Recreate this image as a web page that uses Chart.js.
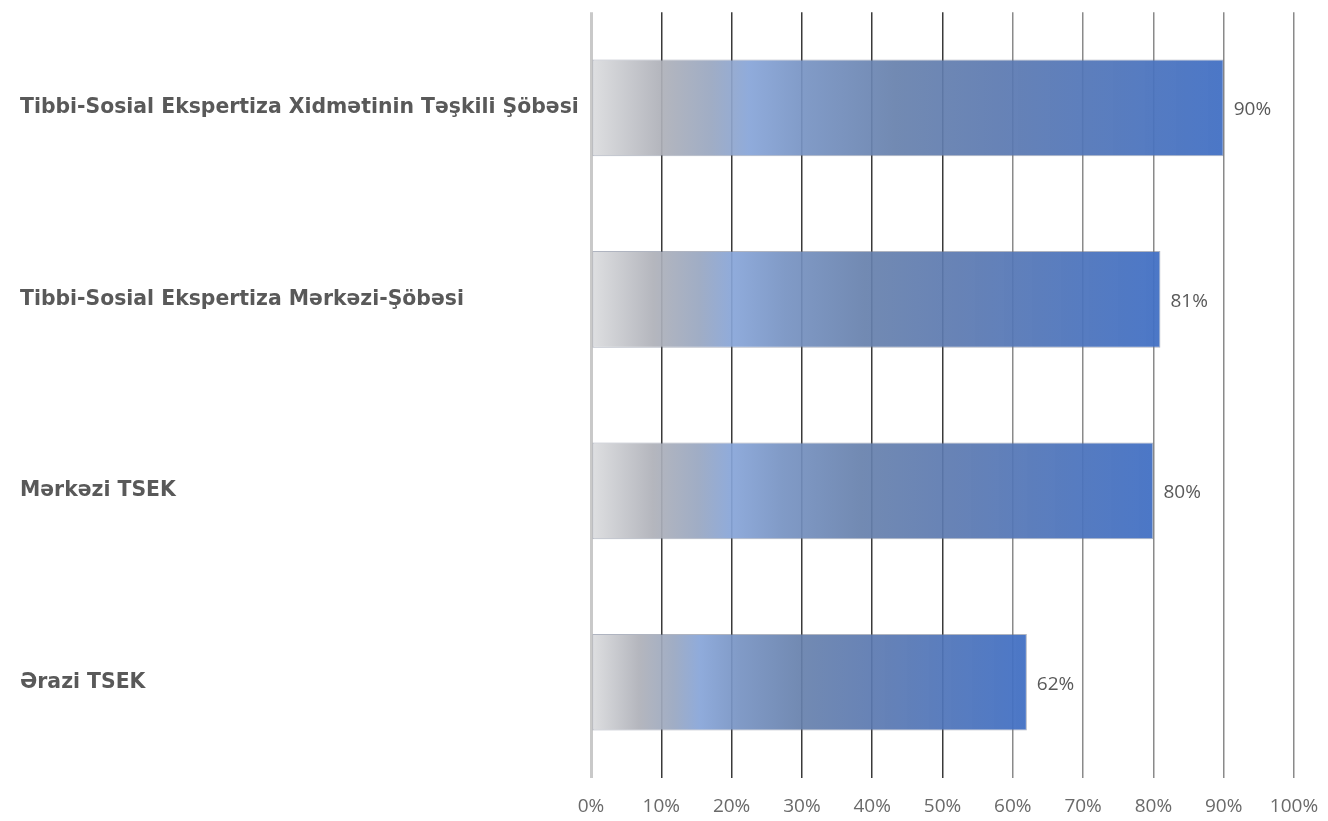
<!DOCTYPE html>
<html>
<head>
<meta charset="utf-8">
<script src="https://cdn.jsdelivr.net/npm/chart.js@4.4.1/dist/chart.umd.min.js"></script>
<style>
  html, body { margin: 0; padding: 0; background: #fff; overflow: hidden; }
  #wrap { width: 1328px; height: 821px; position: relative; }
</style>
</head>
<body>
<div id="wrap"><canvas id="barChart"></canvas></div>
<script>
// Data
const categories = [
  'Tibbi-Sosial Ekspertiza Xidmətinin Təşkili Şöbəsi',
  'Tibbi-Sosial Ekspertiza Mərkəzi-Şöbəsi',
  'Mərkəzi TSEK',
  'Ərazi TSEK'
];
const percentValues = [90, 81, 80, 62];
const tickValues = [0, 10, 20, 30, 40, 50, 60, 70, 80, 90, 100];

// Gradiente por barra (gris -> azul claro -> azul)
function barGradient(context) {
  const chart = context.chart;
  const xScale = chart.scales.x;
  if (!chart.chartArea || !xScale) return 'rgba(68,114,196,0.9)';
  const v = percentValues[context.dataIndex];
  const x0 = xScale.getPixelForValue(0);
  const x1 = xScale.getPixelForValue(v);
  const g = chart.ctx.createLinearGradient(x0, 0, x1, 0);
  g.addColorStop(0, 'rgba(220,221,223,0.92)');
  g.addColorStop(0.11, 'rgba(174,176,184,0.92)');
  g.addColorStop(0.19, 'rgba(152,166,192,0.92)');
  g.addColorStop(0.25, 'rgba(134,164,216,0.92)');
  g.addColorStop(0.34, 'rgba(118,146,194,0.92)');
  g.addColorStop(0.48, 'rgba(102,128,172,0.92)');
  g.addColorStop(0.65, 'rgba(90,120,176,0.92)');
  g.addColorStop(1, 'rgba(66,112,196,0.95)');
  return g;
}

// Etiquetas de valor
const valueLabels = {
  id: 'valueLabels',
  afterDatasetsDraw(chart) {
    const ctx = chart.ctx;
    const meta = chart.getDatasetMeta(0);
    ctx.save();
    ctx.font = '19px "Open Sans", sans-serif';
    ctx.fillStyle = '#595959';
    ctx.textAlign = 'left';
    ctx.textBaseline = 'middle';
    meta.data.forEach((bar, i) => {
      ctx.fillText(percentValues[i] + '%', bar.x + 10, bar.y + 2);
    });
    ctx.restore();
  }
};

const barCtx = document.getElementById('barChart').getContext('2d');
const barChart = new Chart(barCtx, {
  type: 'bar',
  data: {
    labels: categories,
    datasets: [{
      data: percentValues,
      backgroundColor: barGradient,
      borderColor: 'rgba(110,118,140,0.55)',
      borderWidth: 1,
      borderSkipped: false,
      barPercentage: 0.505,
      categoryPercentage: 1
    }]
  },
  options: {
    indexAxis: 'y',
    responsive: true,
    maintainAspectRatio: false,
    animation: false,
    layout: { padding: { left: 20, right: 34, top: 10, bottom: 0 } },
    plugins: {
      legend: { display: false },
      tooltip: { enabled: false }
    },
    scales: {
      x: {
        min: 0,
        max: 100,
        afterBuildTicks: (scale) => { scale.ticks = tickValues.map(v => ({ value: v })); },
        afterFit: (scale) => {
          scale.height = 43;
          scale.paddingLeft = 0;
          scale.paddingRight = 0;
        },
        border: { display: false },
        grid: {
          drawTicks: false,
          color: (c) => c.tick.value === 0 ? '#c9c9c9' : (c.tick.value <= 50 ? '#3a3a3a' : '#8a8a8a'),
          lineWidth: (c) => c.tick.value === 0 ? 3 : 1.5
        },
        ticks: {
          padding: 17,
          color: '#6a6a6a',
          font: { family: '"Open Sans", sans-serif', size: 19 },
          callback: (v) => v + '%'
        }
      },
      y: {
        afterFit: (scale) => { scale.width = 571; },
        border: { display: false },
        grid: { display: false, drawTicks: false },
        ticks: {
          crossAlign: 'far',
          padding: 0,
          color: '#595959',
          font: { family: '"DejaVu Sans", sans-serif', size: 20.4, weight: 'bold' }
        }
      }
    }
  },
  plugins: [valueLabels]
});
</script>
</body>
</html>
